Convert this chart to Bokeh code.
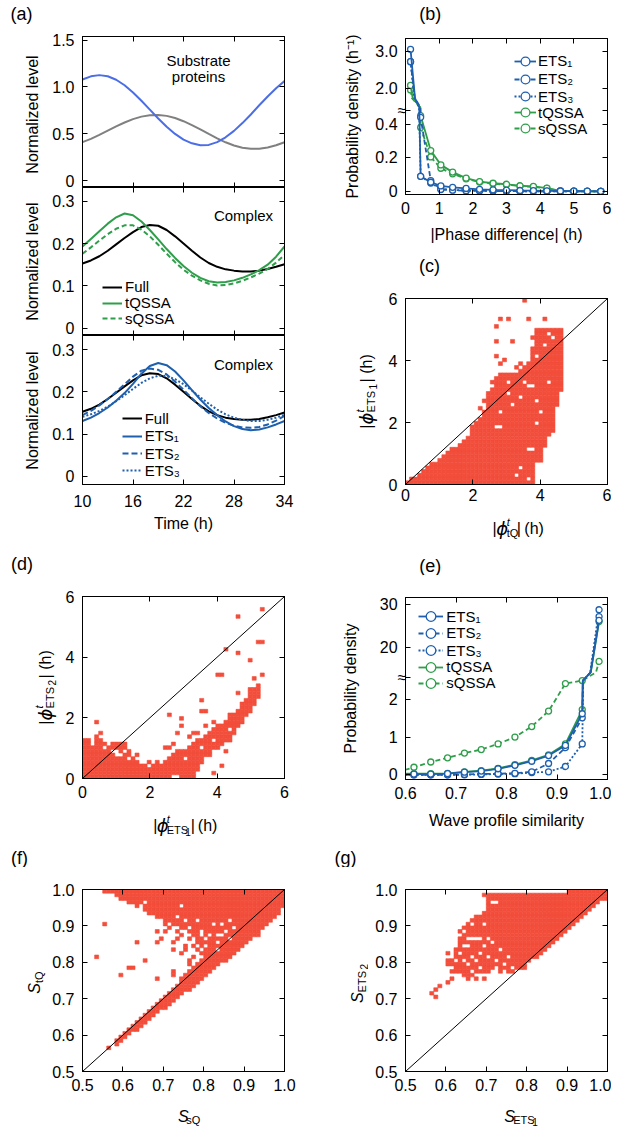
import numpy as np
from bokeh.plotting import figure
from bokeh.models import (Range1d, LinearAxis, FixedTicker, Label, Legend, LegendItem,
                          Slope, CustomJSTickFormatter)
from bokeh.core.properties import value
from bokeh.layouts import column, row
from bokeh.embed import file_html
from bokeh.resources import INLINE

FONT = "Liberation Sans"
RED = "#f24e3b"
BLUE_SUB = "#4b6ee6"
GRAY = "#808080"
GREEN = "#2e9e4a"
BLUE = "#1e5fae"
NB = "\u00a0"

# ---------------- data: panel (a) ----------------
time_h = list(range(10, 35))
substrate_blue = [1.078, 1.112, 1.125, 1.113, 1.076, 1.017, 0.940, 0.852, 0.757, 0.662,
                  0.573, 0.497, 0.437, 0.397, 0.376, 0.380, 0.410, 0.461, 0.530, 0.613,
                  0.705, 0.803, 0.897, 0.985, 1.062]
substrate_gray = [0.410, 0.445, 0.487, 0.532, 0.577, 0.619, 0.655, 0.682, 0.697, 0.700,
                  0.690, 0.667, 0.633, 0.592, 0.545, 0.497, 0.450, 0.408, 0.374, 0.350,
                  0.338, 0.339, 0.352, 0.376, 0.409]
complex_full = [0.153, 0.160, 0.170, 0.183, 0.198, 0.213, 0.227, 0.239, 0.244, 0.242,
                0.232, 0.217, 0.200, 0.183, 0.167, 0.154, 0.145, 0.139, 0.136, 0.134,
                0.134, 0.136, 0.140, 0.145, 0.151]
complex_tqssa = [0.193, 0.211, 0.229, 0.247, 0.262, 0.271, 0.267, 0.252, 0.232, 0.210,
                 0.187, 0.166, 0.147, 0.131, 0.119, 0.111, 0.108, 0.109, 0.113, 0.119,
                 0.127, 0.137, 0.150, 0.169, 0.193]
complex_sqssa = [0.176, 0.191, 0.207, 0.222, 0.235, 0.243, 0.243, 0.233, 0.217, 0.197,
                 0.176, 0.156, 0.138, 0.124, 0.113, 0.105, 0.101, 0.102, 0.106, 0.112,
                 0.120, 0.129, 0.140, 0.155, 0.173]
complex_ets1 = [0.131, 0.139, 0.150, 0.163, 0.179, 0.197, 0.219, 0.243, 0.261, 0.268,
                0.263, 0.248, 0.227, 0.204, 0.182, 0.162, 0.145, 0.130, 0.119, 0.112,
                0.109, 0.111, 0.116, 0.123, 0.131]
complex_ets2 = [0.145, 0.155, 0.168, 0.183, 0.200, 0.218, 0.236, 0.250, 0.255, 0.252,
                0.241, 0.224, 0.205, 0.185, 0.166, 0.150, 0.137, 0.127, 0.120, 0.116,
                0.115, 0.117, 0.123, 0.132, 0.143]
complex_ets3 = [0.141, 0.147, 0.155, 0.165, 0.178, 0.192, 0.207, 0.221, 0.232, 0.238,
                0.237, 0.230, 0.218, 0.203, 0.187, 0.172, 0.158, 0.147, 0.139, 0.134,
                0.131, 0.131, 0.134, 0.139, 0.146]

# ---------------- data: panel (b) ----------------
phase_x = [0.15, 0.45, 0.75, 1.05, 1.4, 1.8, 2.2, 2.6, 3.0, 3.4, 3.8, 4.2, 4.6, 5.0, 5.4, 5.8]
pd_ets1 = [3.05, 0.09, 0.055, 0.033, 0.025, 0.018, 0.013, 0.010, 0.008, 0.006, 0.005, 0.004, 0.003, 0.002, 0.002, 0.001]
pd_ets2 = [2.72, 0.44, 0.065, 0.012, 0.008, 0.005, 0.004, 0.003, 0.002, 0.002, 0.001, 0.001, 0.001, 0.001, 0.001, 0.001]
pd_ets3 = [2.72, 0.09, 0.050, 0.015, 0.010, 0.006, 0.004, 0.003, 0.002, 0.002, 0.001, 0.001, 0.001, 0.001, 0.001, 0.001]
pd_tqssa = [2.09, 0.45, 0.243, 0.158, 0.115, 0.079, 0.059, 0.049, 0.043, 0.034, 0.030, 0.020, 0.004, 0.002, 0.001, 0.001]
pd_sqssa = [1.97, 0.38, 0.205, 0.138, 0.105, 0.075, 0.056, 0.046, 0.040, 0.032, 0.027, 0.018, 0.004, 0.002, 0.001, 0.001]

# ---------------- data: panel (e) ----------------
sim_x = [0.5833, 0.6167, 0.65, 0.6833, 0.7167, 0.75, 0.7833, 0.8167, 0.85, 0.8833, 0.9167, 0.95, 0.9833]
sim_ets1 = [0.02, 0.02, 0.02, 0.03, 0.07, 0.10, 0.16, 0.25, 0.36, 0.51, 0.78, 1.62, 26.3]
sim_ets2 = [0.0, 0.0, 0.0, 0.0, 0.01, 0.02, 0.03, 0.04, 0.08, 0.30, 0.72, 1.51, 27.2]
sim_ets3 = [0.0, 0.0, 0.0, 0.0, 0.0, 0.01, 0.02, 0.03, 0.06, 0.08, 0.22, 0.82, 28.8]
sim_tqssa = [0.03, 0.03, 0.03, 0.04, 0.08, 0.11, 0.17, 0.27, 0.38, 0.53, 0.82, 1.73, 26.0]
sim_sqssa = [0.07, 0.20, 0.34, 0.45, 0.575, 0.67, 0.82, 1.00, 1.28, 1.69, 2.42, 2.50, 16.6]

# ---------------- data: panel (c) grid (cell 0.12), per column bottom/top cell ----------------
c_bot = [0] * 32 + [6, 6, 10, 13, 14, 21, 25]
c_top = [1, 2, 2, 3, 4, 5, 6, 6, 7, 8, 9, 10, 10, 11, 12, 13, 16, 17, 18, 20,
         24, 26, 28, 30, 30, 30, 30, 30, 31, 32, 33, 36, 41, 42, 42, 42, 42, 42, 42]
c_holes = [(3.62, 3.17), (3.77, 3.17), (3.65, 1.16), (3.77, 1.16), (3.40, 0.51), (3.31, 0.25),
           (3.65, 0.19), (2.86, 2.34), (3.21, 2.55), (3.36, 2.82), (4.25, 3.25), (3.95, 4.10),
           (4.10, 4.53), (2.66, 1.80), (2.78, 1.80), (3.95, 1.98), (4.05, 2.30), (3.50, 3.30),
           (3.05, 2.90), (4.40, 4.75), (4.30, 4.90), (3.90, 2.70), (3.00, 3.35)]
c_extra = [(3.58, 5.93), (2.81, 5.31), (3.06, 5.31), (3.70, 5.31), (4.08, 5.31), (2.69, 5.05),
           (3.85, 4.94), (3.73, 4.70), (3.19, 4.67), (2.69, 4.56), (2.69, 4.16), (2.93, 4.05),
           (2.81, 3.92), (3.31, 3.78), (3.60, 3.78), (3.75, 4.20), (3.75, 4.40), (2.42, 2.93),
           (2.32, 2.66), (2.45, 2.75), (2.20, 2.45), (2.58, 3.25), (2.70, 3.40), (3.90, 4.60),
           (3.40, 3.90)]

# ---------------- data: panel (d) grid (cell 0.12) ----------------
d_bot = [0, 0, 0, 0, 0, 0, 0, 0, 0, 0, 0, 0, 0, 0, 0, 0, 0, 0, 0, 0,
         0, 0, 1, 1, 0, 0, 0, 0, 2, 4, 6, 7, 8, 8, 9, 10, 10, 12, 14, 15,
         17, 18, 20, 22]
d_top = [11, 11, 10, 12, 11, 10, 9, 10, 10, 10, 9, 8, 6, 5, 4, 4, 5, 5, 5, 4,
         5, 6, 7, 8, 8, 8, 9, 10, 11, 11, 12, 13, 14, 15, 15, 16, 17, 18, 19, 21,
         22, 24, 25, 26]
d_holes = [(0.86, 0.95), (1.06, 0.75), (1.18, 0.75), (1.06, 0.87), (1.30, 0.90), (1.40, 0.62),
           (2.30, 0.50), (3.10, 0.60), (3.50, 1.00), (3.90, 1.20), (4.40, 1.60), (0.30, 1.10),
           (0.70, 1.00), (2.00, 0.40), (2.10, 0.55)]
d_extra = [(5.32, 5.52), (4.56, 5.30), (4.22, 4.31), (4.67, 4.19), (4.94, 3.95), (5.19, 4.44),
           (5.32, 4.55), (5.32, 3.43), (4.00, 3.43), (4.10, 3.43), (5.06, 3.29), (4.56, 2.82),
           (3.58, 2.54), (3.49, 2.19), (3.60, 2.19), (2.56, 2.05), (2.96, 1.92), (2.96, 1.79),
           (2.81, 1.54), (2.42, 1.04), (2.56, 1.04), (2.71, 1.17), (1.31, 1.17), (1.57, 0.77),
           (3.83, 0.77), (4.08, 0.41), (3.95, 0.16), (4.20, 0.95), (0.44, 1.81), (0.58, 1.54),
           (3.30, 1.50), (3.20, 1.35), (3.45, 1.50), (3.70, 1.75), (3.95, 1.90), (4.35, 2.10),
           (4.75, 2.45), (5.00, 2.90)]

# ---------------- data: panel (f) grid (cell 0.01) ----------------
f_col_x = [round(0.55 + 0.01 * k, 2) for k in range(45)]
f_band_lo = [None, 0.56, None, 0.57, 0.58, 0.59, 0.60, 0.61, 0.61, 0.62, 0.63, 0.64, 0.65,
             0.66, 0.67, 0.67, 0.68, 0.69, 0.70, 0.71, 0.72, 0.72, 0.73, 0.74, 0.75, 0.76] + [None] * 19
f_band_hi = [None, 0.57, None, 0.59, 0.60, 0.61, 0.62, 0.63, 0.64, 0.65, 0.66, 0.67, 0.68,
             0.69, 0.70, 0.71, 0.72, 0.73, 0.74, 0.76, 0.77, 0.78, 0.79, 0.80, 0.81, 0.82] + [None] * 19
f_up_lo = [0.99, 0.99, 0.99, 0.98, 0.97, 0.97, 0.96, 0.96, 0.95, 0.95, 0.94, 0.93, 0.93,
           0.92, 0.92, 0.91, 0.91, 0.90, 0.90, 0.89, 0.89, 0.88, 0.87, 0.85, 0.84, 0.82,
           0.77, 0.78, 0.79, 0.80, 0.80, 0.81, 0.82, 0.83, 0.84, 0.85, 0.86, 0.87, 0.88,
           0.89, 0.90, 0.91, 0.92, 0.93, 0.95]
f_holes = [(0.80, 0.86), (0.81, 0.875), (0.83, 0.85), (0.84, 0.87), (0.82, 0.90), (0.85, 0.885),
           (0.86, 0.865), (0.79, 0.885), (0.845, 0.905), (0.835, 0.875), (0.76, 0.895), (0.75, 0.915),
           (0.73, 0.925), (0.745, 0.955), (0.645, 0.955), (0.655, 0.965), (0.645, 0.945), (0.78, 0.91),
           (0.87, 0.895), (0.83, 0.835), (0.805, 0.845), (0.865, 0.91), (0.79, 0.87)]
f_extra = [(0.557, 0.908), (0.538, 0.814), (0.596, 0.763), (0.612, 0.787), (0.62, 0.78),
           (0.636, 0.852), (0.653, 0.808), (0.68, 0.853), (0.682, 0.758), (0.69, 0.868),
           (0.685, 0.887), (0.70, 0.887), (0.72, 0.852), (0.726, 0.762), (0.728, 0.775),
           (0.735, 0.864), (0.745, 0.826), (0.75, 0.845), (0.76, 0.80), (0.765, 0.79),
           (0.771, 0.938), (0.93, 0.874), (0.887, 0.83), (0.70, 0.905), (0.715, 0.89),
           (0.73, 0.88), (0.745, 0.87), (0.76, 0.86), (0.775, 0.845), (0.78, 0.83),
           (0.79, 0.82), (0.72, 0.83), (0.755, 0.835), (0.77, 0.81), (0.565, 0.563)]

# ---------------- data: panel (g) grid (cell 0.01) ----------------
g_col_x = [round(0.61 + 0.01 * k, 2) for k in range(39)]
g_lo = [0.79, 0.77, 0.77, 0.76, 0.76, 0.76, 0.77, 0.77, 0.77, 0.78, 0.78, 0.79, 0.78,
        0.78, 0.77, 0.77, 0.78, 0.78, 0.79, 0.80, 0.81, 0.81, 0.82, 0.83, 0.84, 0.85,
        0.86, 0.87, 0.88, 0.89, 0.90, 0.91, 0.92, 0.93, 0.94, 0.95, 0.96, 0.97, 0.97]
g_hi = [0.81, 0.84, 0.89, 0.90, 0.91, 0.92, 0.93, 0.93, 0.94, 0.99, 0.99, 0.99, 0.99,
        0.99, 0.99, 0.99, 0.99, 0.99, 0.99, 0.99, 0.99, 0.99, 0.99, 0.99, 0.99, 0.99,
        0.99, 0.99, 0.99, 1.00, 1.00, 1.00, 1.00, 1.00, 1.00, 1.00, 1.00, 1.00, 1.00]
g_holes = [(0.64, 0.80), (0.65, 0.79), (0.655, 0.865), (0.665, 0.865), (0.675, 0.865), (0.685, 0.865),
           (0.64, 0.845), (0.65, 0.845), (0.66, 0.81), (0.67, 0.80), (0.68, 0.82), (0.69, 0.84),
           (0.70, 0.81), (0.72, 0.80), (0.71, 0.965), (0.72, 0.965), (0.63, 0.82), (0.62, 0.80),
           (0.66, 0.775), (0.68, 0.785), (0.74, 0.79), (0.76, 0.785), (0.63, 0.87), (0.645, 0.885),
           (0.665, 0.905), (0.69, 0.90), (0.705, 0.86), (0.715, 0.85), (0.735, 0.83), (0.75, 0.815)]
g_extra = [(0.573, 0.70), (0.569, 0.715), (0.575, 0.725), (0.583, 0.733), (0.60, 0.748), (0.61, 0.752),
           (0.605, 0.795), (0.605, 0.805), (0.605, 0.825), (0.612, 0.77), (0.69, 0.98), (0.655, 0.755),
           (0.675, 0.752), (0.69, 0.755), (0.78, 0.78), (0.79, 0.785), (0.855, 0.848), (0.865, 0.853),
           (0.875, 0.862), (0.70, 0.772), (0.73, 0.775)]

# ---------------- frames (page pixel geometry) ----------------
FR = {
    "a1": dict(L=82, R=284, T=36, B=187, x=(10, 34), y=(-0.0747, 1.5374)),
    "a2": dict(L=82, R=284, T=187, B=335, x=(10, 34), y=(-0.01725, 0.3324)),
    "a3": dict(L=82, R=284, T=335, B=484, x=(10, 34), y=(-0.0189, 0.3331)),
    "b": dict(L=405, R=607, T=38, B=194, x=(0, 6), y=(-0.0178, 0.908)),
    "c": dict(L=405, R=607, T=298, B=484, x=(0, 6), y=(0, 6)),
    "d": dict(L=82, R=284, T=596, B=778, x=(0, 6), y=(0, 6)),
    "e": dict(L=405, R=607, T=597, B=779, x=(0.6, 1.0), y=(-0.1247, 4.703)),
    "f": dict(L=82, R=284, T=889, B=1071, x=(0.5, 1.0), y=(0.5, 1.0)),
    "g": dict(L=405, R=607, T=889, B=1071, x=(0.5, 1.0), y=(0.5, 1.0)),
}


def px2x(fr, px):
    return fr["x"][0] + (px - fr["L"]) / (fr["R"] - fr["L"]) * (fr["x"][1] - fr["x"][0])


def py2y(fr, py):
    return fr["y"][0] + (fr["B"] - py) / (fr["B"] - fr["T"]) * (fr["y"][1] - fr["y"][0])


def x2px(fr, v):
    return fr["L"] + (v - fr["x"][0]) / (fr["x"][1] - fr["x"][0]) * (fr["R"] - fr["L"])


def y2py(fr, v):
    return fr["B"] - (v - fr["y"][0]) / (fr["y"][1] - fr["y"][0]) * (fr["B"] - fr["T"])


def new_fig(key, w, h, bl, br, bt, bb):
    fr = FR[key]
    p = figure(width=w, height=h, output_backend="svg", toolbar_location=None,
               x_range=Range1d(*fr["x"]), y_range=Range1d(*fr["y"]),
               min_border_left=bl, min_border_right=br, min_border_top=bt, min_border_bottom=bb,
               background_fill_color="white", border_fill_color="white",
               outline_line_color="black", outline_line_width=1)
    p.xgrid.visible = False
    p.ygrid.visible = False
    return p


def text_fig(key, x0, y0, w, h):
    # a plain canvas whose data coordinates equal page pixels (y downwards)
    FR[key] = dict(L=x0, R=x0 + w, T=y0, B=y0 + h, x=(x0, x0 + w), y=(y0 + h, y0))
    p = figure(width=w, height=h, output_backend="svg", toolbar_location=None,
               x_range=Range1d(x0, x0 + w), y_range=Range1d(y0 + h, y0),
               min_border=0, min_border_left=0, min_border_right=0,
               min_border_top=0, min_border_bottom=0,
               x_axis_location=None, y_axis_location=None,
               background_fill_color="white", border_fill_color="white",
               outline_line_color=None)
    p.xgrid.visible = False
    p.ygrid.visible = False
    return p


def fmt(ticks, labels):
    return CustomJSTickFormatter(args=dict(tk=list(ticks), lb=list(labels)),
                                 code="for (let i = 0; i < tk.length; i++) { if (Math.abs(tk[i] - tick) < 1e-6) { return lb[i]; } } return '';")


def setup_axis(ax, ticks, labels=None, standoff=7):
    ax.ticker = FixedTicker(ticks=list(ticks))
    ax.major_tick_in = 5
    ax.major_tick_out = 0
    ax.minor_tick_in = 0
    ax.minor_tick_out = 0
    ax.minor_tick_line_color = None
    ax.axis_line_color = "black"
    ax.axis_line_width = 1
    ax.major_tick_line_color = "black"
    ax.major_tick_line_width = 1
    ax.major_label_text_font = FONT
    ax.major_label_text_color = "black"
    ax.axis_label = None
    ax.axis_label_text_font = FONT
    ax.axis_label_text_font_size = "16px"
    ax.axis_label_text_font_style = "normal"
    ax.axis_label_text_color = "black"
    if labels is None:
        ax.major_label_text_font_size = "0px"
        ax.major_label_standoff = 0
        ax.formatter = fmt(ticks, [""] * len(ticks))
    else:
        ax.major_label_text_font_size = "16px"
        ax.major_label_standoff = standoff
        ax.formatter = fmt(ticks, labels)


def axes(p, xt, xl, yt, yl, xs=7, ys=8):
    xb = p.below[0]
    yl_ax = p.left[0]
    setup_axis(xb, xt, xl, xs)
    setup_axis(yl_ax, yt, yl, ys)
    top = LinearAxis()
    right = LinearAxis()
    p.add_layout(top, "above")
    p.add_layout(right, "right")
    setup_axis(top, xt, None)
    setup_axis(right, yt, None)
    return xb, yl_ax


def axis_title(ax, text, standoff):
    ax.axis_label = text
    ax.axis_label_standoff = standoff


def put(p, key, px, py, text, size=16, align="center", baseline="middle", angle=0.0,
        style="normal", font=FONT):
    fr = FR[key]
    p.add_layout(Label(x=px2x(fr, px), y=py2y(fr, py), x_units="data", y_units="data",
                       text=text, text_font=font, text_font_size=f"{size}px",
                       text_font_style=style, text_align=align, text_baseline=baseline,
                       angle=angle, text_color="black"))


W = {'|': 0.26, '(': 0.333, ')': 0.333, ' ': 0.278, 'h': 0.556, 't': 0.278, 'Q': 0.778,
     'E': 0.667, 'T': 0.611, 'S': 0.667, 's': 0.5, '1': 0.556, '2': 0.556, 'ϕ': 0.68}


def tw(s, size):
    return sum(W.get(ch, 0.556) for ch in s) * size


def rich(p, key, px, py, pieces, vertical=False):
    pos = 0.0
    for text, size, rise, style, font, adv in pieces:
        if text is None:          # blank advance (svg collapses leading blanks)
            pos += size
            continue
        if vertical:
            X, Y = px - rise, py - pos
        else:
            X, Y = px + pos, py - rise
        put(p, key, X, Y, text, size=size, align="left", baseline="alphabetic",
            angle=(np.pi / 2 if vertical else 0.0), style=style, font=font)
        if adv:
            pos += tw(text, size)


def phi_pieces(sub, subsub=None):
    pcs = [("|", 16, 0, "normal", FONT, True),
           ("ϕ", 18, 0, "italic", "DejaVu Sans", True),
           ("t", 11, 7, "italic", FONT, False),
           (sub, 11, -4, "normal", FONT, True)]
    if subsub:
        pcs += [(None, 1.5, 0, "", "", True), (subsub, 10, -6, "normal", FONT, True),
                (None, 1.5, 0, "", "", True)]
    pcs += [("|", 16, 0, "normal", FONT, True), (None, 4.5, 0, "", "", True),
            ("(h)", 16, 0, "normal", FONT, True)]
    return pcs


def s_pieces(sub, subsub=None):
    pcs = [("S", 16, 0, "italic", FONT, True), (sub, 11, -4, "normal", FONT, True)]
    if subsub:
        pcs += [(None, 1.5, 0, "", "", True), (subsub, 10, -6, "normal", FONT, True)]
    return pcs


def width_of(pcs):
    tot = 0.0
    for t, s, r, st, fo, a in pcs:
        if t is None:
            tot += s
        elif a:
            tot += tw(t, s)
    return tot


def make_tf(lo_end, up_start, ref_v, ref_t, slope):
    t_up = ref_t + (up_start - ref_v) * slope

    def tf(v):
        if v <= lo_end:
            return v
        if v >= up_start:
            return ref_t + (v - ref_v) * slope
        return lo_end + (v - lo_end) / (up_start - lo_end) * (t_up - lo_end)
    return tf


def broken_path(xs, vs, cuts, tf):
    ox, ot = [xs[0]], [tf(vs[0])]
    for k in range(1, len(xs)):
        x0, v0, x1, v1 = xs[k - 1], vs[k - 1], xs[k], vs[k]
        cross = []
        for cc in cuts:
            if (v0 - cc) * (v1 - cc) < 0:
                cross.append(x0 + (cc - v0) / (v1 - v0) * (x1 - x0))
        cross.sort(reverse=(x1 < x0))
        for cx_ in cross:
            cv = v0 + (cx_ - x0) / (x1 - x0) * (v1 - v0)
            ox.append(cx_)
            ot.append(tf(cv))
        ox.append(x1)
        ot.append(tf(v1))
    return ox, ot


def cells(step, cols, holes, extras):
    s = set()
    for i, a, bb in cols:
        for j in range(a, bb):
            s.add((i, j))
    for hx, hy in holes:
        s.discard((int(np.floor(hx / step + 1e-9)), int(np.floor(hy / step + 1e-9))))
    for ex, ey in extras:
        s.add((int(np.floor(ex / step + 1e-9)), int(np.floor(ey / step + 1e-9))))
    s = sorted(s)
    return [(i + 0.5) * step for i, j in s], [(j + 0.5) * step for i, j in s]


def draw_cells(p, xs, ys, step):
    p.rect(x=xs, y=ys, width=step, height=step, fill_color=RED, line_color=RED, line_width=0.6)


def legend_rows(p, key, items, gx_left, centers, gw, standoff):
    fr = FR[key]
    RH = 24
    for item, cy in zip(items, centers):
        leg = Legend(items=[item], location=(gx_left - fr["L"], fr["B"] - cy - RH / 2),
                     padding=0, margin=0, spacing=0,
                     glyph_width=gw, glyph_height=RH, label_height=RH, label_standoff=standoff,
                     label_text_font=FONT, label_text_font_size="15px", label_text_color="black",
                     background_fill_alpha=0, border_line_alpha=0)
        p.add_layout(leg)


HALF_PI = np.pi / 2
a_ticks = [10, 16, 22, 28, 34]
a1_ticks, a1_labels = [0, 0.5, 1.0, 1.5], ["0", "0.5", "1.0", "1.5"]
ac_ticks, ac_labels = [0, 0.1, 0.2, 0.3], ["0", "0.1", "0.2", "0.3"]

# ---------------- panel (a) ----------------
ta = text_fig("ta", 0, 0, 308, 26)
put(ta, "ta", 21, 13.5, "(a)", size=18)
tal = text_fig("tal", 0, 26, 78, 460)
tab = text_fig("tab", 0, 486, 308, 67)

a1 = new_fig("a1", 230, 161, 4, 24, 10, 0)
axes(a1, a_ticks, None, a1_ticks, None)
a1.line(time_h, substrate_gray, line_color=GRAY, line_width=2)
a1.line(time_h, substrate_blue, line_color=BLUE_SUB, line_width=2)
put(a1, "a1", 198, 60, "Substrate", size=15)
put(a1, "a1", 198, 76, "proteins", size=15)

a2 = new_fig("a2", 230, 148, 4, 24, 0, 0)
axes(a2, a_ticks, None, ac_ticks, None)
r_full2 = a2.line(time_h, complex_full, line_color="black", line_width=2)
r_sq = a2.line(time_h, complex_sqssa, line_color=GREEN, line_width=2, line_dash="5 3")
r_tq = a2.line(time_h, complex_tqssa, line_color=GREEN, line_width=2)
legend_rows(a2, "a2", [LegendItem(label=value("Full"), renderers=[r_full2]),
                       LegendItem(label=value("tQSSA"), renderers=[r_tq]),
                       LegendItem(label=value("sQSSA"), renderers=[r_sq])],
            102, [286.7, 302.7, 318.3], 20, 3)
put(a2, "a2", 243, 215, "Complex", size=15)

a3 = new_fig("a3", 230, 151, 4, 24, 0, 2)
axes(a3, a_ticks, None, ac_ticks, None)
r_full3 = a3.line(time_h, complex_full, line_color="black", line_width=2)
r_e3 = a3.line(time_h, complex_ets3, line_color=BLUE, line_width=2, line_dash="2 2")
r_e2 = a3.line(time_h, complex_ets2, line_color=BLUE, line_width=2, line_dash="6 3")
r_e1 = a3.line(time_h, complex_ets1, line_color=BLUE, line_width=2)
legend_rows(a3, "a3", [LegendItem(label=value("Full"), renderers=[r_full3]),
                       LegendItem(label=value("ETS₁"), renderers=[r_e1]),
                       LegendItem(label=value("ETS₂"), renderers=[r_e2]),
                       LegendItem(label=value("ETS₃"), renderers=[r_e3])],
            121.7, [418.3, 435.7, 453.3, 470.0], 20, 3)
put(a3, "a3", 243, 364, "Complex", size=15)

# tick labels and titles of panel (a), placed next to the frames
for key, tks, lbs, mid in [("a1", a1_ticks, a1_labels, 114), ("a2", ac_ticks, ac_labels, 261),
                           ("a3", ac_ticks, ac_labels, 410)]:
    for t, lb in zip(tks, lbs):
        put(tal, "tal", 74, y2py(FR[key], t), lb, align="right")
    put(tal, "tal", 32, mid, "Normalized level", angle=HALF_PI)
for t in a_ticks:
    put(tab, "tab", x2px(FR["a3"], t), 500, str(t))
put(tab, "tab", 183, 523, "Time (h)")

# ---------------- panel (b) ----------------
tbx = text_fig("tb", 308, 0, 303, 26)
put(tbx, "tb", 345, 13.5, "(b)", size=18)

tb = make_tf(0.5, 1.75, 2.0, 0.6095, 0.2232)
b_break = 0.48
b_yt = [0, 0.2, 0.4, b_break, tb(2.0), tb(3.0)]
b_yl = ["0" + NB * 2, "0.2" + NB * 2, "0.4" + NB * 2, "≈", "2.0" + NB * 2, "3.0" + NB * 2]
b = new_fig("b", 303, 226, 97, 4, 12, 58)
xb_, yb_ = axes(b, [0, 1, 2, 3, 4, 5, 6], ["0", "1", "2", "3", "4", "5", "6"], b_yt, b_yl, ys=-1)
axis_title(yb_, "Probability density (h⁻¹)", 11)
axis_title(xb_, "|Phase difference| (h)", 9)
b_series = [("sQSSA", pd_sqssa, GREEN, "5 3"), ("tQSSA", pd_tqssa, GREEN, "solid"),
            ("ETS₃", pd_ets3, BLUE, "2 2"), ("ETS₂", pd_ets2, BLUE, "5 3"),
            ("ETS₁", pd_ets1, BLUE, "solid")]
b_items = {}
for name, vals, col, dash in b_series:
    lx, lt = broken_path(phase_x, vals, [0.5, 1.75], tb)
    rl = b.line(lx, lt, line_color=col, line_width=1.8, line_dash=dash)
    rs = b.scatter(phase_x, [tb(v) for v in vals], marker="circle", size=6,
                   fill_color="white", line_color=col, line_width=1.3)
    b_items[name] = LegendItem(label=value(name), renderers=[rl, rs])
legend_rows(b, "b", [b_items[k] for k in ["ETS₁", "ETS₂", "ETS₃", "tQSSA", "sQSSA"]],
            514, [60.5, 78.5, 96.0, 112.0, 128.0], 22, 2)

# ---------------- panel (c) ----------------
tcx_ = text_fig("tc", 308, 252, 303, 30)
put(tcx_, "tc", 344, 265, "(c)", size=18)
tcy = text_fig("tcy", 308, 282, 70, 271)
tcb = text_fig("tcb", 378, 508, 233, 45)

c = new_fig("c", 233, 226, 27, 4, 16, 24)
axes(c, [0, 2, 4, 6], ["0", "2", "4", "6"], [0, 2, 4, 6], ["0", "2", "4", "6"], xs=4)
cx, cy = cells(0.12, [(i, c_bot[i], c_top[i]) for i in range(len(c_top))], c_holes, c_extra)
draw_cells(c, cx, cy, 0.12)
c.add_layout(Slope(gradient=1, y_intercept=0, line_color="black", line_width=1))
pc = phi_pieces("tQ")
rich(tcb, "tcb", 506.5 - width_of(pc) / 2, 528, pc)
pc = phi_pieces("ETS", "1")
rich(tcy, "tcy", 366, 391 + width_of(pc) / 2, pc, vertical=True)

# ---------------- panel (d) ----------------
td = text_fig("td", 0, 553, 308, 22)
put(td, "td", 21.5, 563, "(d)", size=18)
tdy = text_fig("tdy", 0, 575, 58, 268)
tdb = text_fig("tdb", 58, 806, 250, 37)

d = new_fig("d", 250, 231, 24, 24, 21, 28)
axes(d, [0, 2, 4, 6], ["0", "2", "4", "6"], [0, 2, 4, 6], ["0", "2", "4", "6"])
dx, dy = cells(0.12, [(i, d_bot[i], d_top[i]) for i in range(len(d_top))], d_holes, d_extra)
draw_cells(d, dx, dy, 0.12)
d.add_layout(Slope(gradient=1, y_intercept=0, line_color="black", line_width=1))
pc = phi_pieces("ETS", "1")
rich(tdb, "tdb", 183 - width_of(pc) / 2, 825, pc)
pc = phi_pieces("ETS", "2")
rich(tdy, "tdy", 45, 687 + width_of(pc) / 2, pc, vertical=True)

# ---------------- panel (e) ----------------
tex = text_fig("te", 308, 553, 303, 22)
put(tex, "te", 345, 565, "(e)", size=18)

te = make_tf(2.5, 14.0, 20.0, 3.389, 0.1124)
e_break = 2.57
e_yt = [0, 1, 2, e_break, te(20.0), te(30.0)]
e_yl = ["0" + NB * 2, "1" + NB * 2, "2" + NB * 2, "≈", "20" + NB * 2, "30" + NB * 2]
e = new_fig("e", 303, 268, 97, 4, 22, 64)
xe_, ye_ = axes(e, [0.6, 0.7, 0.8, 0.9, 1.0], ["0.6", "0.7", "0.8", "0.9", "1.0"], e_yt, e_yl, ys=-1)
axis_title(ye_, "Probability density", 18)
axis_title(xe_, "Wave profile similarity", 10)
e_series = [("sQSSA", sim_sqssa, GREEN, "5 3"), ("tQSSA", sim_tqssa, GREEN, "solid"),
            ("ETS₃", sim_ets3, BLUE, "2 2"), ("ETS₂", sim_ets2, BLUE, "5 3"),
            ("ETS₁", sim_ets1, BLUE, "solid")]
e_items = {}
for name, vals, col, dash in e_series:
    lx, lt = broken_path(sim_x, vals, [2.5, 14.0], te)
    rl = e.line(lx, lt, line_color=col, line_width=1.8, line_dash=dash)
    rs = e.scatter(sim_x, [te(v) for v in vals], marker="circle", size=6,
                   fill_color="white", line_color=col, line_width=1.3)
    e_items[name] = LegendItem(label=value(name), renderers=[rl, rs])
legend_rows(e, "e", [e_items[k] for k in ["ETS₁", "ETS₂", "ETS₃", "tQSSA", "sQSSA"]],
            418.3, [616.0, 632.7, 650.0, 666.7, 682.7], 25, 3)

# ---------------- panel (f) ----------------
s_ticks = [0.5, 0.6, 0.7, 0.8, 0.9, 1.0]
s_labels = ["0.5", "0.6", "0.7", "0.8", "0.9", "1.0"]
tfx_ = text_fig("tf", 0, 843, 308, 24)
put(tfx_, "tf", 19, 857, "(f)", size=18)
tfy = text_fig("tfy", 0, 867, 48, 260)
tfb = text_fig("tfb", 48, 1099, 260, 28)

f = new_fig("f", 260, 232, 34, 24, 22, 28)
axes(f, s_ticks, s_labels, s_ticks, s_labels)
f_runs = []
for k, x in enumerate(f_col_x):
    i = int(round(x * 100))
    if f_band_lo[k] is not None:
        f_runs.append((i, int(round(f_band_lo[k] * 100)), int(round(f_band_hi[k] * 100))))
    f_runs.append((i, int(round(f_up_lo[k] * 100)), 100))
fx, fy = cells(0.01, f_runs, f_holes, f_extra)
draw_cells(f, fx, fy, 0.01)
f.add_layout(Slope(gradient=1, y_intercept=0, line_color="black", line_width=1))
pc = s_pieces("sQ")
rich(tfb, "tfb", 183.3 - width_of(pc) / 2, 1115.5, pc)
pc = s_pieces("tQ")
rich(tfy, "tfy", 34, 982 + width_of(pc) / 2, pc, vertical=True)

# ---------------- panel (g) ----------------
tgx_ = text_fig("tg", 308, 843, 303, 24)
put(tgx_, "tg", 345, 857, "(g)", size=18)
tgy = text_fig("tgy", 308, 867, 60, 260)
tgb = text_fig("tgb", 368, 1099, 243, 28)

g = new_fig("g", 243, 232, 37, 4, 22, 28)
axes(g, s_ticks, s_labels, s_ticks, s_labels)
g_runs = [(int(round(x * 100)), int(round(lo * 100)), int(round(hi * 100)))
          for x, lo, hi in zip(g_col_x, g_lo, g_hi)]
gx, gy = cells(0.01, g_runs, g_holes, g_extra)
draw_cells(g, gx, gy, 0.01)
g.add_layout(Slope(gradient=1, y_intercept=0, line_color="black", line_width=1))
pc = s_pieces("ETS", "1")
rich(tgb, "tgb", 506.5 - width_of(pc) / 2, 1115.5, pc)
pc = s_pieces("ETS", "2")
rich(tgy, "tgy", 357, 983 + width_of(pc) / 2, pc, vertical=True)

# ---------------- layout ----------------
left1 = column(ta, row(tal, column(a1, a2, a3)), tab)
r1 = row(left1, column(tbx, b, tcx_, row(tcy, column(c, tcb))))
r2 = row(column(td, row(tdy, column(d, tdb))),
         column(tex, e))
r3 = row(column(tfx_, row(tfy, column(f, tfb))),
         column(tgx_, row(tgy, column(g, tgb))))
layout = column(r1, r2, r3)

open("out.html", "w").write(file_html(layout, INLINE))
